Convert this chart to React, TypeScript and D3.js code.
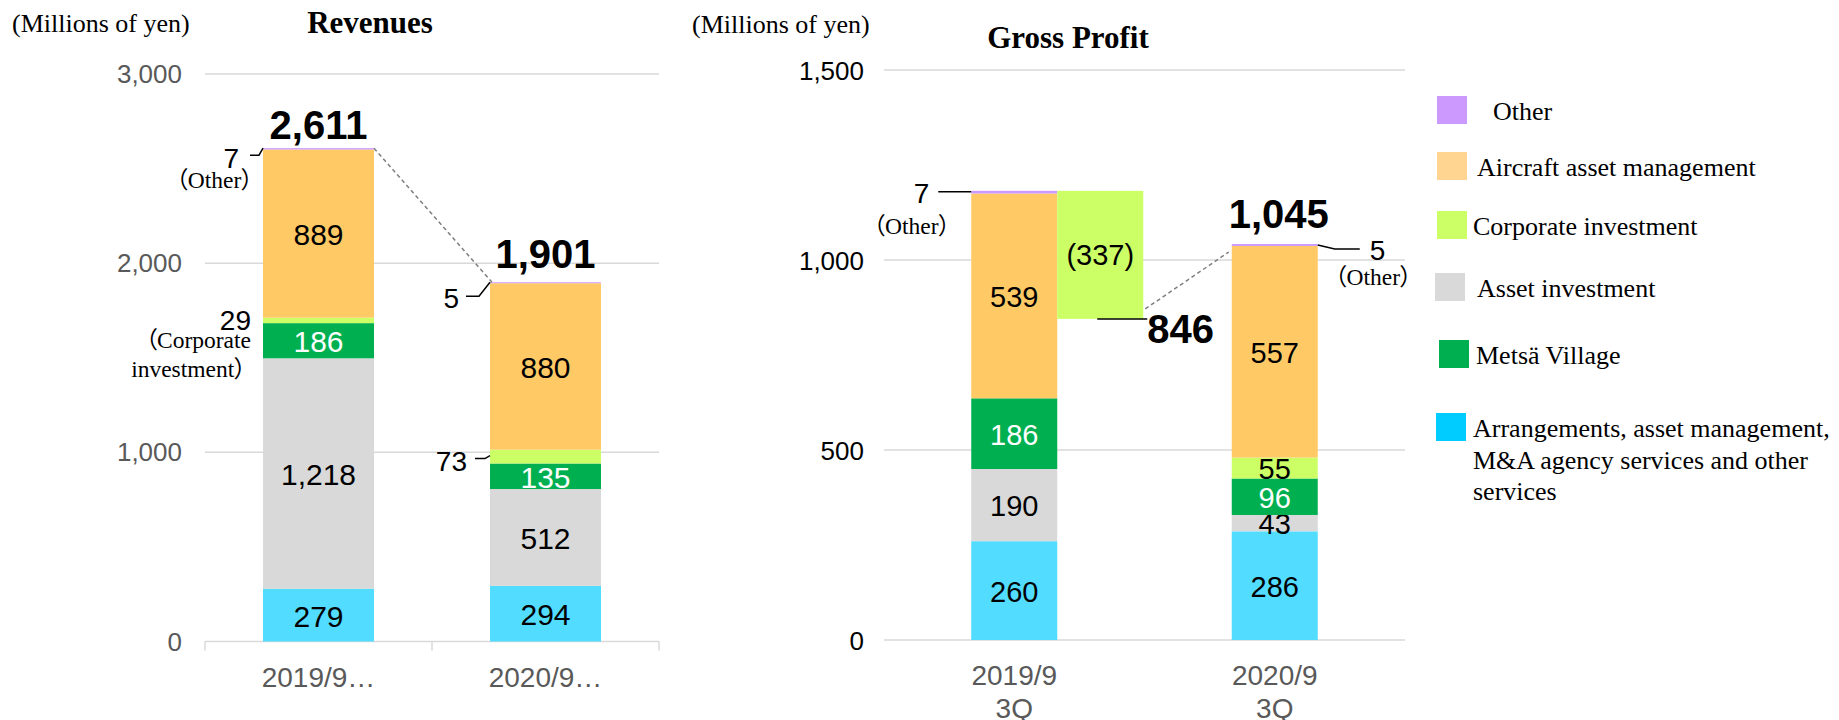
import * as d3 from "d3";

// categories and segment data (millions of yen)
const categories = ["2019/9 3Q", "2020/9 3Q"];
const segmentKeys = ["arrangements", "asset", "metsa", "corporate", "aircraft", "other"];
const segmentNames = [
  "Arrangements, asset management, M&A agency services and other services",
  "Asset investment",
  "Metsä Village",
  "Corporate investment",
  "Aircraft asset management",
  "Other",
];

const revArrangements = [279, 294];
const revAsset = [1218, 512];
const revMetsa = [186, 135];
const revCorporate = [29, 73];
const revAircraft = [889, 880];
const revOther = [7, 5];
const revTotals = [2611, 1901];
const revTicks = [0, 1000, 2000, 3000];

const gpArrangements = [260, 286];
const gpAsset = [190, 43];
const gpMetsa = [186, 96];
const gpCorporate = [0, 55];
const gpAircraft = [539, 557];
const gpOther = [7, 5];
const gpBridge = -337;
const gpAfterBridge = 846;
const gpTotal2020 = 1045;
const gpTicks = [0, 500, 1000, 1500];

const barColors: Record<string, string> = {
  arrangements: "#52DCFF",
  asset: "#D9D9D9",
  metsa: "#00B050",
  corporate: "#CCFF66",
  aircraft: "#FFCA66",
  other: "#CC99FF",
};
const legendColors: Record<string, string> = {
  arrangements: "#00CCFF",
  asset: "#D9D9D9",
  metsa: "#00B050",
  corporate: "#CCFF66",
  aircraft: "#FFD591",
  other: "#CC99FF",
};

const sans = "'Liberation Sans', Arial, sans-serif";
const serif = "'Liberation Serif', 'Times New Roman', 'Noto Sans CJK JP', serif";
const fmt = d3.format(",");
const grid = "#D9D9D9";
const noteSize = 23.5;
const palt = { fontFeatureSettings: "'palt'" };

const toRows = (arr, asset, metsa, corp, air, other) =>
  categories.map((c, i) => ({
    cat: c,
    arrangements: arr[i],
    asset: asset[i],
    metsa: metsa[i],
    corporate: corp[i],
    aircraft: air[i],
    other: other[i],
  }));

const revStack = d3.stack().keys(segmentKeys)(
  toRows(revArrangements, revAsset, revMetsa, revCorporate, revAircraft, revOther)
);
const gpStack = d3.stack().keys(segmentKeys)(
  toRows(gpArrangements, gpAsset, gpMetsa, gpCorporate, gpAircraft, gpOther)
);

function Bars({ stack, x, y, barW, size }) {
  return (
    <g>
      {stack.map((series) =>
        series.map((d, i) => {
          const cx = x(categories[i]) + x.bandwidth() / 2;
          const y0 = y(d[0]);
          const y1 = y(d[1]);
          const h = y0 - y1;
          if (h <= 0) return null;
          const v = d[1] - d[0];
          return (
            <g key={series.key + i}>
              <rect x={cx - barW / 2} y={y1} width={barW} height={h} fill={barColors[series.key]} />
              {h >= 15 && series.key !== "other" && (
                <text
                  x={cx}
                  y={(y0 + y1) / 2 + 1}
                  textAnchor="middle"
                  dominantBaseline="central"
                  fontFamily={sans}
                  fontSize={size}
                  fill={series.key === "metsa" ? "#fff" : "#000"}
                >
                  {fmt(v)}
                </text>
              )}
            </g>
          );
        })
      )}
    </g>
  );
}

function Revenues() {
  const x = d3.scaleBand().domain(categories).range([205, 659]);
  const y = d3.scaleLinear().domain([0, 3000]).range([641.5, 74]);
  const barW = 111;
  const c1 = x(categories[0]) + x.bandwidth() / 2;
  const c2 = x(categories[1]) + x.bandwidth() / 2;
  const bl1 = c1 - barW / 2, br1 = c1 + barW / 2, bl2 = c2 - barW / 2;
  const top = (i) => y(revStack[5][i][1]);
  const corpTop1 = y(revStack[3][0][1]);
  const corpMid2 = y((revStack[3][1][0] + revStack[3][1][1]) / 2);
  return (
    <g>
      <text x={12} y={32} fontFamily={serif} fontSize={26}>(Millions of yen)</text>
      <text x={370} y={33} textAnchor="middle" fontFamily={serif} fontWeight="bold" fontSize={31}>Revenues</text>
      {revTicks.map((t) => (
        <g key={t}>
          <line x1={205} x2={659} y1={y(t)} y2={y(t)} stroke={grid} strokeWidth={1.5} />
          <text x={182} y={y(t)} textAnchor="end" dominantBaseline="central" fontFamily={sans} fontSize={26} fill="#595959">
            {fmt(t)}
          </text>
        </g>
      ))}
      {[205, x(categories[1]), 659].map((tx) => (
        <line key={tx} x1={tx} x2={tx} y1={y(0)} y2={y(0) + 9} stroke={grid} strokeWidth={1.5} />
      ))}
      {categories.map((c) => (
        <text key={c} x={x(c) + x.bandwidth() / 2} y={677} textAnchor="middle" dominantBaseline="central" fontFamily={sans} fontSize={28} fill="#595959">
          {c.split(" ")[0] + "…"}
        </text>
      ))}
      <Bars stack={revStack} x={x} y={y} barW={barW} size={30} />
      <line x1={br1} y1={top(0)} x2={bl2 + 2} y2={top(1)} stroke="#7F7F7F" strokeWidth={1.5} strokeDasharray="4,3" />
      {[c1, c2].map((c, i) => (
        <text key={i} x={c} y={top(i) - (i === 0 ? 9 : 14)} textAnchor="middle" fontFamily={sans} fontWeight="bold" fontSize={40}>
          {fmt(revTotals[i])}
        </text>
      ))}
      {/* Other, bar 1 */}
      <text x={bl1 - 24} y={top(0) + 20} textAnchor="end" fontFamily={sans} fontSize={28}>{revOther[0]}</text>
      <path d={`M${bl1 - 13},${top(0) + 7}H${bl1 - 4}L${bl1},${top(0)}`} fill="none" stroke="#000" strokeWidth={1.5} />
      <text x={bl1 - 10} y={top(0) + 40} textAnchor="end" fontFamily={serif} fontSize={noteSize} style={palt}>（Other）</text>
      {/* Corporate investment, bar 1 */}
      <text x={bl1 - 12} y={corpTop1 + 12} textAnchor="end" fontFamily={sans} fontSize={28}>{revCorporate[0]}</text>
      <text x={bl1 - 12} y={corpTop1 + 30} textAnchor="end" fontFamily={serif} fontSize={noteSize} style={palt}>（Corporate</text>
      <text x={bl1 - 17} y={corpTop1 + 59} textAnchor="end" fontFamily={serif} fontSize={noteSize} style={palt}>investment）</text>
      {/* Other, bar 2 */}
      <text x={bl2 - 31} y={top(1) + 26} textAnchor="end" fontFamily={sans} fontSize={28}>{revOther[1]}</text>
      <path d={`M${bl2 - 24},${top(1) + 14}H${bl2 - 11}L${bl2},${top(1)}`} fill="none" stroke="#000" strokeWidth={1.5} />
      {/* Corporate investment, bar 2 */}
      <text x={bl2 - 23} y={corpMid2 + 14} textAnchor="end" fontFamily={sans} fontSize={28}>{revCorporate[1]}</text>
      <path d={`M${bl2 - 15},${corpMid2 + 2}H${bl2 - 5}L${bl2},${corpMid2 - 1}`} fill="none" stroke="#000" strokeWidth={1.5} />
    </g>
  );
}

function GrossProfit() {
  const x = d3.scaleBand().domain(categories).range([884, 1405]);
  const y = d3.scaleLinear().domain([0, 1500]).range([640, 70]);
  const barW = 86;
  const c1 = x(categories[0]) + x.bandwidth() / 2;
  const c2 = x(categories[1]) + x.bandwidth() / 2;
  const bl1 = c1 - barW / 2, br1 = c1 + barW / 2, bl2 = c2 - barW / 2, br2 = c2 + barW / 2;
  const total1 = gpStack[5][0][1];
  const top1 = y(total1);
  const top2 = y(gpStack[5][1][1]);
  const wfBottom = y(total1 + gpBridge);
  const wfRight = br1 + barW;
  return (
    <g>
      <text x={692} y={33} fontFamily={serif} fontSize={26}>(Millions of yen)</text>
      <text x={1068} y={48} textAnchor="middle" fontFamily={serif} fontWeight="bold" fontSize={31}>Gross Profit</text>
      {gpTicks.map((t) => (
        <g key={t}>
          <line x1={884} x2={1405} y1={y(t)} y2={y(t)} stroke={grid} strokeWidth={1.5} />
          <text x={864} y={y(t) + 1} textAnchor="end" dominantBaseline="central" fontFamily={sans} fontSize={26} fill="#000">
            {fmt(t)}
          </text>
        </g>
      ))}
      {categories.map((c) => (
        <text key={c} x={x(c) + x.bandwidth() / 2} y={675} textAnchor="middle" dominantBaseline="central" fontFamily={sans} fontSize={28} fill="#595959">
          {c.split(" ").map((s, k) => (
            <tspan key={k} x={x(c) + x.bandwidth() / 2} dy={k === 0 ? 0 : 33}>{s}</tspan>
          ))}
        </text>
      ))}
      <Bars stack={gpStack} x={x} y={y} barW={barW} size={29} />
      {/* bridge for corporate investment */}
      <rect x={br1} y={top1} width={barW} height={wfBottom - top1} fill={barColors.corporate} />
      <text x={br1 + barW / 2} y={(top1 + wfBottom) / 2} textAnchor="middle" dominantBaseline="central" fontFamily={sans} fontSize={29}>
        ({fmt(-gpBridge)})
      </text>
      <path d={`M${br1 + 40},${wfBottom}H${wfRight + 4}`} stroke="#000" strokeWidth={1.5} />
      <text x={wfRight + 4} y={wfBottom + 24} fontFamily={sans} fontWeight="bold" fontSize={40}>{fmt(gpAfterBridge)}</text>
      <line x1={wfRight + 2} y1={wfBottom - 10} x2={bl2 - 3} y2={top2 + 8} stroke="#7F7F7F" strokeWidth={1.5} strokeDasharray="4,3" />
      <text x={c2 + 4} y={top2 - 16} textAnchor="middle" fontFamily={sans} fontWeight="bold" fontSize={40}>{fmt(gpTotal2020)}</text>
      {/* Other, bar 1 */}
      <text x={bl1 - 42} y={top1 + 12} textAnchor="end" fontFamily={sans} fontSize={28}>{gpOther[0]}</text>
      <path d={`M${bl1 - 33},${top1 + 1}H${bl1}`} stroke="#000" strokeWidth={1.5} />
      <text x={bl1 - 21} y={top1 + 43} textAnchor="end" fontFamily={serif} fontSize={noteSize} style={palt}>（Other）</text>
      {/* Other, bar 2 */}
      <path d={`M${br2},${top2 + 1}L${br2 + 17},${top2 + 5}H${br2 + 42}`} fill="none" stroke="#000" strokeWidth={1.5} />
      <text x={br2 + 52} y={top2 + 16} fontFamily={sans} fontSize={28}>{gpOther[1]}</text>
      <text x={br2 + 17} y={top2 + 41} fontFamily={serif} fontSize={noteSize} style={palt}>（Other）</text>
    </g>
  );
}

// legend layout: top to bottom
const legendLayout = [
  { key: "other", sx: 1437, cy: 110, tx: 1493, lines: ["Other"] },
  { key: "aircraft", sx: 1437, cy: 166, tx: 1477, lines: [segmentNames[4]] },
  { key: "corporate", sx: 1437, cy: 225, tx: 1473, lines: [segmentNames[3]] },
  { key: "asset", sx: 1435, cy: 287, tx: 1477, lines: [segmentNames[1]] },
  { key: "metsa", sx: 1439, cy: 354, tx: 1476, lines: [segmentNames[2]] },
  {
    key: "arrangements",
    sx: 1436,
    cy: 427,
    tx: 1473,
    lines: ["Arrangements, asset management,", "M&A agency services and other", "services"],
  },
];

function Legend() {
  return (
    <g>
      {legendLayout.map((l) => (
        <g key={l.key}>
          <rect x={l.sx} y={l.cy - 14} width={30} height={28} fill={legendColors[l.key]} />
          <text fontFamily={serif} fontSize={26} fill="#000">
            {l.lines.map((s, k) => (
              <tspan key={k} x={l.tx} y={l.cy + 10 + k * 31.5}>{s}</tspan>
            ))}
          </text>
        </g>
      ))}
    </g>
  );
}

export default function App() {
  return (
    <svg width={1839} height={720} style={{ position: "absolute", left: 0, top: 0, background: "#fff" }}>
      <Revenues />
      <GrossProfit />
      <Legend />
    </svg>
  );
}
